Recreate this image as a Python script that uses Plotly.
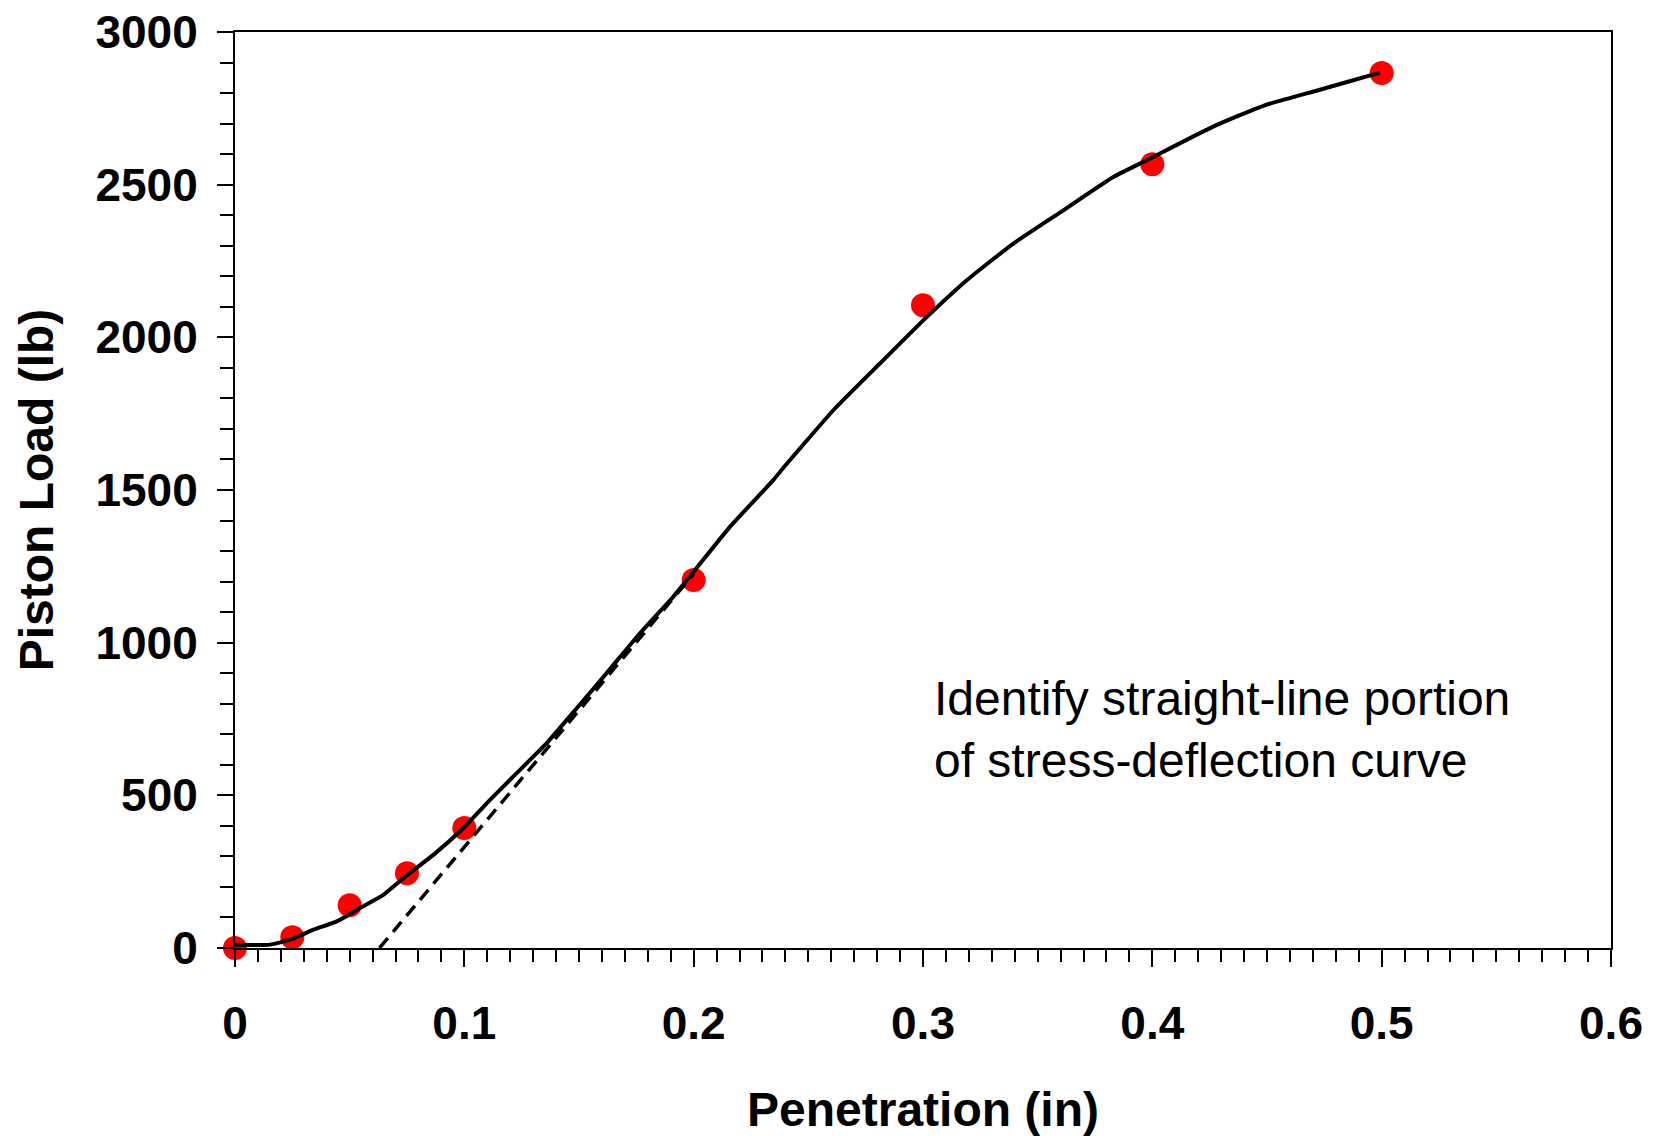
import plotly.graph_objects as go

# Measured data points (red dots)
pen_pts = [0.0, 0.025, 0.05, 0.075, 0.1, 0.2, 0.3, 0.4, 0.5]
load_pts = [0, 35, 140, 245, 393, 1205, 2105, 2567, 2866]

# Continuous load-penetration curve (black line)
curve_x = [0.0, 0.0153, 0.0247, 0.0342, 0.0444, 0.0545, 0.0647, 0.0749, 0.0865,
           0.0996, 0.1112, 0.1214, 0.1359, 0.149, 0.162, 0.1766, 0.1912, 0.2006,
           0.2159, 0.2348, 0.2377, 0.261, 0.2813, 0.3017, 0.3191, 0.3394, 0.3612,
           0.383, 0.3976, 0.4265, 0.4487, 0.4727, 0.497, 0.4993]
curve_y = [11, 11, 29, 60, 87, 131, 174, 238, 305,
           393, 485, 562, 671, 785, 900, 1031, 1151, 1238,
           1380, 1533, 1560, 1762, 1915, 2067, 2187, 2307, 2416,
           2525, 2580, 2690, 2759, 2810, 2862, 2866]

# Tangent to straight-line portion (dashed)
tan_x = [0.063, 0.2]
tan_y = [0, 1225]

annot_text = "Identify straight-line portion<br>of stress-deflection curve"

FONT = "Liberation Sans, Arial, sans-serif"

fig = go.Figure()
fig.add_trace(go.Scatter(x=pen_pts, y=load_pts, mode="markers",
                         marker=dict(color="#ff0000", size=24, line=dict(width=0)),
                         cliponaxis=False, showlegend=False))
fig.add_trace(go.Scatter(x=curve_x, y=curve_y, mode="lines",
                         line=dict(color="black", width=4, shape="spline", smoothing=0.5),
                         cliponaxis=False, showlegend=False))
fig.add_trace(go.Scatter(x=tan_x, y=tan_y, mode="lines",
                         line=dict(color="black", width=3.5, dash="13px,8px"),
                         showlegend=False))

fig.add_annotation(x=0.304, y=714, xref="x", yref="y", text=annot_text,
                   showarrow=False, xanchor="left", yanchor="middle", align="left",
                   font=dict(family=FONT, size=48, color="black"))

fig.update_xaxes(range=[0, 0.6], dtick=0.1, tick0=0, automargin=False,
                 showgrid=False, zeroline=False,
                 showline=True, linecolor="black", linewidth=2, mirror=True,
                 ticks="outside", ticklen=17, tickwidth=2, tickcolor="black",
                 minor=dict(dtick=0.01, ticks="outside", ticklen=12, tickwidth=2,
                            tickcolor="black", showgrid=False),
                 tickfont=dict(family=FONT, size=46, color="black", weight="bold"),
                 ticklabelstandoff=17,
                 title=dict(text="<b>Penetration (in)</b>", standoff=44,
                            font=dict(family=FONT, size=48, color="black")))
fig.update_yaxes(range=[0, 3000], dtick=500, tick0=0, automargin=False,
                 showgrid=False, zeroline=False,
                 showline=True, linecolor="black", linewidth=2, mirror=True,
                 ticks="outside", ticklen=16, tickwidth=2, tickcolor="black",
                 minor=dict(dtick=100, ticks="outside", ticklen=13, tickwidth=2,
                            tickcolor="black", showgrid=False),
                 tickfont=dict(family=FONT, size=46, color="black", weight="bold"),
                 ticklabelstandoff=10,
                 title=dict(text="<b>Piston Load (lb)</b>", standoff=27,
                            font=dict(family=FONT, size=48, color="black")))

fig.update_layout(width=1654, height=1136,
                  margin=dict(l=235, r=43, t=32, b=188),
                  plot_bgcolor="white", paper_bgcolor="white",
                  font=dict(family=FONT))

fig.write_html("out.html")
